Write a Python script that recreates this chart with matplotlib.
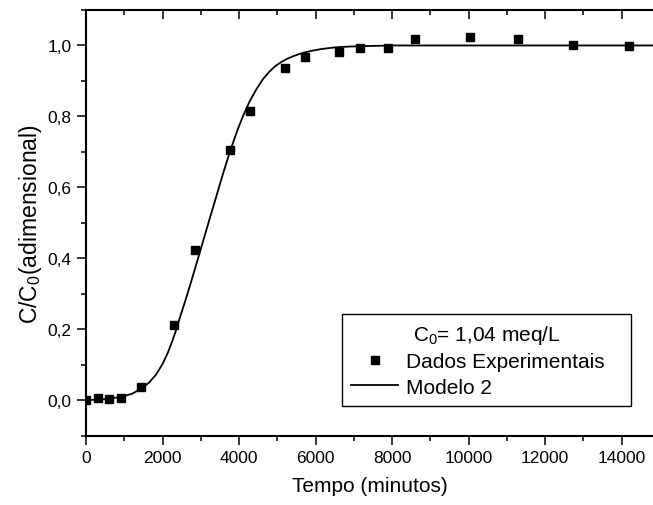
import matplotlib
matplotlib.use('Agg')
import matplotlib.pyplot as plt
from matplotlib.ticker import MultipleLocator

plt.rcParams['font.family'] = ['Liberation Sans', 'DejaVu Sans']
plt.rcParams['mathtext.default'] = 'regular'

# experimental points (tempo em minutos, C/C0)
tempo_exp = [0, 305, 592, 906, 1446, 2300, 2849, 3755, 4287, 5201, 5724,
             6621, 7161, 7885, 8590, 10028, 11291, 12737, 14192]
cc0_exp = [0.0, 0.006, 0.003, 0.006, 0.036, 0.212, 0.424, 0.706, 0.815,
           0.937, 0.967, 0.983, 0.993, 0.994, 1.017, 1.024, 1.017, 1.000, 0.998]

# model curve
tempo_mod = [0, 500, 900, 1200, 1440, 1650, 1830, 2000, 2135, 2250, 2352, 2475,
             2600, 2725, 2850, 2975, 3100, 3225, 3350, 3475, 3600, 3725, 3850,
             3975, 4100, 4275, 4450, 4625, 4800, 4950, 5100, 5250, 5400, 5550,
             5700, 5900, 6100, 6300, 6550, 6900, 7200, 7600, 8000, 10000, 12000, 14820]
cc0_mod = [0.0, 0.003, 0.009, 0.018, 0.032, 0.050, 0.072, 0.102, 0.133, 0.165, 0.197, 0.240,
           0.282, 0.326, 0.371, 0.417, 0.463, 0.509, 0.554, 0.600, 0.645, 0.688, 0.728,
           0.766, 0.800, 0.842, 0.876, 0.905, 0.927, 0.942, 0.953, 0.962, 0.969, 0.975,
           0.980, 0.985, 0.989, 0.992, 0.995, 0.997, 0.998, 0.999, 1.0, 1.0, 1.0, 1.0]

xticks = [0, 2000, 4000, 6000, 8000, 10000, 12000, 14000]
xticklabels = ['0', '2000', '4000', '6000', '8000', '10000', '12000', '14000']
yticks = [0.0, 0.2, 0.4, 0.6, 0.8, 1.0]
yticklabels = ['0,0', '0,2', '0,4', '0,6', '0,8', '1,0']

fig = plt.figure(figsize=(6.53, 5.06), dpi=100)
ax = fig.add_axes([86 / 653, 1 - 436.7 / 506, 1 - 86 / 653, (436.7 - 11) / 506])

ax.plot(tempo_exp, cc0_exp, 's', color='black', markersize=6.3, label='Dados Experimentais')
ax.plot(tempo_mod, cc0_mod, '-', color='black', linewidth=1.3, label='Modelo 2')

ax.set_xlim(0, 14820)
ax.set_ylim(-0.1, 1.1)
ax.set_xticks(xticks)
ax.set_xticklabels(xticklabels)
ax.set_yticks(yticks)
ax.set_yticklabels(yticklabels)
ax.xaxis.set_minor_locator(MultipleLocator(1000))
ax.yaxis.set_minor_locator(MultipleLocator(0.1))

ax.spines['right'].set_visible(False)
for s in ['left', 'bottom', 'top']:
    ax.spines[s].set_linewidth(1.5)

ax.tick_params(axis='both', which='major', direction='out', length=6.7, width=1.1,
               labelsize=12.5, pad=3.5)
ax.tick_params(axis='both', which='minor', direction='out', length=3.3, width=1.1)
ax.tick_params(axis='x', which='both', top=True, labeltop=False)
# top ticks point inwards
for t in ax.xaxis.get_major_ticks() + ax.xaxis.get_minor_ticks():
    t.tick2line.set_marker(3)

ax.set_xlabel('Tempo (minutos)', fontsize=15, labelpad=8)
ax.set_ylabel('C/C$_0$(adimensional)', fontsize=16.5, labelpad=3)

leg = ax.legend(title='C$_0$= 1,04 meq/L', loc='lower left',
                bbox_to_anchor=(0.4515, 0.0698, 0.51, 0.223), mode='expand',
                borderaxespad=0, fontsize=15, title_fontsize=15, fancybox=False,
                edgecolor='black', framealpha=1, handlelength=2.25,
                handletextpad=0.35, borderpad=0.45, labelspacing=0.3)
leg.get_frame().set_linewidth(1.0)

fig.savefig('out.png', dpi=100)
